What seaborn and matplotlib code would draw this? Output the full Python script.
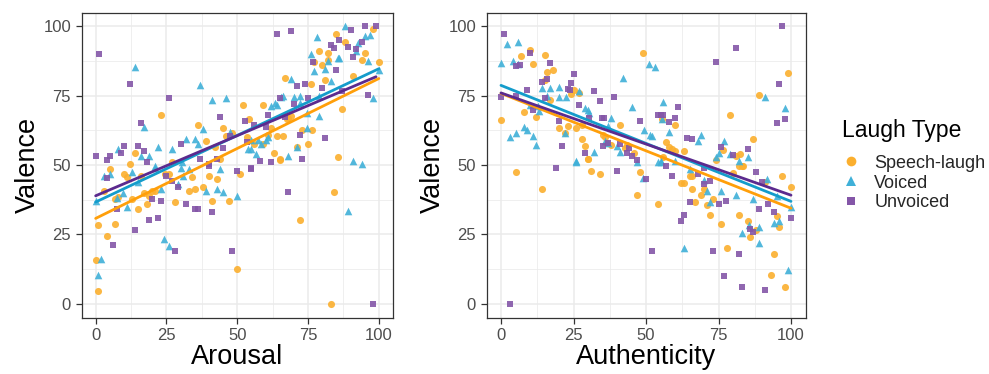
import matplotlib
matplotlib.use("Agg")
import matplotlib.pyplot as plt
import seaborn as sns
import pandas as pd
from matplotlib.ticker import MultipleLocator
from matplotlib.lines import Line2D

# ---------------- DATA ----------------
laugh_types = ["Speech-laugh", "Voiced", "Unvoiced"]

# Left panel: Arousal vs Valence
aro_speech_x = [52, 23, 36, 45, 48, 46, 39, 53.4, 42, 14, 12, 44, 27, 5, 10, 11, 3, 16, 24.6, 26, 34, 40, 43, 33, 35, 38, 41, 47, 28, 51,
                1, 7, 4, 0, 1, 7, 8, 15, 13, 18, 17, 19, 20, 21, 50,
                59, 85, 88, 79, 82, 95, 82, 94, 100, 77, 80, 91, 67, 81, 76, 87, 54, 68, 69, 67.5, 62, 61, 64, 66, 73, 76.5, 56, 59, 63, 65,
                71, 75, 85.7, 98, 65, 84, 72, 83]
aro_speech_y = [71.5, 68.2, 64.4, 63.4, 61.4, 60.4, 58.8, 60.1, 56.4, 54.2, 50.4, 52.2, 51, 48.6, 46.9, 45.7, 40.5, 46.2, 46.6, 46.9, 45.7, 46.2, 45, 40.8, 41.4, 42.1, 36.9, 36.9, 36.6, 46.9,
                28.2, 28.9, 24.3, 15.9, 4.4, 37.8, 38.6, 34, 37.8, 36.1, 40, 39, 40.5, 40.5, 12.5,
                71.8, 97.4, 94.5, 91.1, 90.3, 90.5, 88, 87.8, 87.2, 87.2, 86, 82, 81.5, 80.6, 79.3, 70.3, 66.7, 67, 67.6, 66.5, 63.4, 61, 60.4, 60.4, 62.6, 62.6, 57.4, 57.5, 54.2, 51.8,
                56.5, 57.7, 52.8, 99, 52, 40.2, 30.3, 0]

aro_voiced_x = [14, 37, 41, 46, 17, 38, 47.5, 32, 35, 36, 22, 27, 8, 16, 19, 30.5, 21, 53.8, 3, 5, 13, 21, 30, 31, 33, 44, 29, 39, 43, 45, 50,
                2, 1, 7.5, 9.7, 11, 23, 24, 26, 15, 0,
                88, 95, 97, 78, 92.5, 92, 76, 85.5, 86, 82, 96, 81, 77, 100, 69, 83, 98, 65.5, 66, 70, 72, 79, 62, 63.4, 64, 72, 74.5, 79, 74.5,
                55, 58.5, 57.5, 60, 61, 68, 71, 91, 94, 55, 56.5, 89]
aro_voiced_y = [85.4, 78.8, 73.6, 74, 63.8, 63, 62, 59.5, 59.5, 57.4, 56.4, 55.6, 55.6, 53.2, 53.2, 51, 49.8, 55.6, 46.2, 46.9, 47.4, 49, 49, 46, 48.4, 48.6, 43, 40.5, 41.4, 40.2, 38.7,
                16.2, 10.2, 38, 40, 35, 41.4, 23.3, 20.7, 44, 37,
                100, 96.5, 97, 96, 94, 91, 90.1, 88.7, 88.7, 87.6, 87.5, 84.5, 83.9, 84.2, 80.9, 80.3, 74.3, 74.6, 75, 74.6, 74.9, 75, 71.2, 72.2, 71.5, 72.5, 68.8, 67.6, 63.5,
                59, 57.5, 59, 59, 60, 53.4, 56.5, 51.4, 50.5, 55.6, 54, 33.3]

aro_unvoiced_x = [1.2, 12, 26, 44, 52.8, 16, 47.6, 30, 45, 10, 15, 17, 9, 0, 5, 4, 18, 43, 40, 37, 4, 25, 27, 29, 40, 41, 32, 35, 36, 50,
                  6, 7.6, 20, 23, 19, 22, 14, 28, 48,
                  64, 69, 90, 95, 99, 86, 83, 84, 89, 94, 92, 91, 76.6, 85, 74, 71, 80, 87, 96, 65, 75, 70, 61, 67, 60, 56, 72, 53.6, 81, 73,
                  55, 58, 62, 55, 68, 98]
aro_unvoiced_y = [90, 79.3, 74.3, 67.3, 65.8, 65.2, 60.4, 57.6, 56.2, 57, 57, 55.2, 54.2, 53.2, 53.2, 51.8, 51, 52.2, 50.2, 52, 45.4, 46, 44.2, 42.1, 49.8, 33, 36.1, 34, 34, 47.8,
                  21, 34, 37.8, 36.9, 30, 31, 26.7, 19.1, 19.1,
                  97.4, 98.3, 98.7, 100, 100, 95, 93.2, 92.3, 92.5, 94.3, 92, 89, 87.2, 84.2, 79.3, 78.5, 77.6, 76.6, 75.1, 74.3, 74.3, 72.1, 68.2, 67.3, 63.8, 64.3, 60.8, 58.2, 59.8, 52.2,
                  49, 51.4, 51.2, 48.6, 40.2, 0]

# Right panel: Authenticity vs Valence
aut_speech_x = [10, 7, 15, 11, 16, 18, 49, 15, 25, 27, 24, 17, 8, 0, 12, 20, 23, 28, 26, 28, 29, 30, 22, 35, 36, 36.6, 38, 41, 42.6, 43.6, 46,
                5, 14, 30, 31, 34, 48, 47, 54,
                99, 89, 55.5, 60, 79, 87, 57, 58, 59, 60, 63, 76.5, 81, 82.5, 74, 83.6, 56,
                65, 66, 62, 63, 66, 69, 70, 71, 73, 67, 72, 76, 78, 80, 82, 83, 82, 85, 86, 88, 94, 93, 98, 97, 100, 95, 96, 91]
aut_speech_y = [91.4, 89.3, 89.6, 86.3, 83.6, 84.2, 90.3, 80.6, 77.2, 76, 75.6, 73.5, 69.2, 66.4, 67.3, 63.5, 64, 64.3, 63.4, 59.2, 56.8, 52.3, 61.6, 61, 60, 58, 57.3, 64.3, 56, 57.2, 54.5,
                47.5, 41.5, 52, 47.8, 46.6, 47.5, 39.1, 36.1,
                83.3, 75.2, 66.5, 64.3, 67.9, 59.2, 58.2, 56.6, 55.6, 55, 55, 55.5, 53.2, 54, 51.8, 49.5, 53,
                46, 46, 43.6, 43.6, 41.4, 39.3, 41.3, 35.7, 37.8, 36.6, 31.8, 28.8, 20.1, 47, 49.6, 49.6, 32.1, 29.7, 24, 26.5, 17.9, 10.5, 6, 46, 42, 31.5, 27.5, 44]

aut_voiced_x = [2, 6, 4, 0, 5.8, 51, 53, 42, 14, 17, 20, 27, 16, 20, 22.5, 10, 12.6, 13, 29, 30, 30.5, 45, 38, 37, 8, 9, 11, 5, 3, 12, 22,
                26, 36, 37, 32, 40, 41, 49.4, 52, 55, 26, 47, 49, 54,
                91, 56, 98, 55.5, 51.5, 58, 69, 68, 77, 75, 79, 85, 74, 82, 55, 60,
                65, 70, 71, 72, 76, 63, 81, 85.5, 83, 89, 89, 99, 87, 95, 96, 94, 100, 91.6]
aut_voiced_y = [93.5, 94.3, 87.5, 86.9, 86.6, 86.6, 85.4, 81.5, 77.6, 77.9, 78.1, 76.6, 74.9, 74.5, 74.5, 71.8, 71.2, 69.5, 70.4, 69.8, 68.8, 71, 67, 64, 63.8, 62.8, 60.6, 61.6, 60, 57.1, 61.6,
                51.6, 58.6, 58, 54.6, 56.8, 54.6, 62.8, 60.4, 51.5, 51, 51, 45.4, 51,
                74.6, 72.7, 70.4, 66.5, 61, 62, 61, 58.7, 58.6, 54.5, 54, 53, 52.8, 51.5, 51, 51.3,
                48.6, 44.5, 40.8, 36.6, 40.5, 20.1, 39.3, 28.5, 25.5, 27.5, 21.9, 12.3, 37.8, 39, 29.7, 29, 35, 44.8]

aut_unvoiced_x = [1.1, 10, 5, 6.5, 17, 25, 16, 14, 24, 23, 23.8, 32, 9, 0, 15, 39, 34, 27, 5, 11, 30.5, 54, 34.8, 35.6, 48, 20, 21, 29, 35, 37,
                  41, 44, 43.6, 45, 47, 19, 40, 50, 52, 3,
                  97, 81, 74, 96, 61, 56, 55, 60, 58, 98, 95, 64, 66, 76, 80, 85, 57, 70,
                  59, 70, 72, 65, 63, 62, 75, 77.5, 73, 77, 83, 91, 82, 88, 86, 87, 89, 92, 94, 100, 90, 68]
aut_unvoiced_y = [97.4, 90.5, 85.7, 86, 86.9, 82.7, 80.9, 80, 79.4, 77.4, 77, 76.6, 77, 74.5, 74, 74.6, 73, 71.8, 74.9, 70, 67, 68.2, 67, 67, 65.8, 65.8, 56.8, 54.2, 57, 58,
                  57.5, 56, 54.2, 53.4, 51.8, 49, 47.8, 45.1, 19.1, 0,
                  100, 92.3, 87.2, 79.3, 70.9, 68, 68, 67, 65.6, 66.7, 65.2, 59.8, 59.2, 56.6, 53.5, 55.8, 49.6, 49,
                  46, 43.3, 44.2, 36.6, 32.1, 29.7, 36.1, 37, 19.1, 10.1, 6, 5, 17.9, 47.4, 27, 26, 34, 36, 33, 31, 44, 46.6]

tick_values = [0, 25, 50, 75, 100]

# ---------------- STYLE ----------------
sns.set_theme(style="whitegrid")
plt.rcParams['font.family'] = ['Liberation Sans', 'DejaVu Sans']

line_colors = {"Speech-laugh": "#FF9F0A", "Voiced": "#149CCB", "Unvoiced": "#5B2A8E"}
point_colors = {"Speech-laugh": "#FBAF2E", "Voiced": "#3FB0D8", "Unvoiced": "#8456A8"}
markers = {"Speech-laugh": "o", "Voiced": "^", "Unvoiced": "s"}
msizes = {"Speech-laugh": 26, "Voiced": 30, "Unvoiced": 20}


def make_df(xs, ys):
    rows = []
    for t, x, y in zip(laugh_types, xs, ys):
        for a, b in zip(x, y):
            rows.append({"x": a, "Valence": b, "Laugh Type": t})
    return pd.DataFrame(rows)


df_aro = make_df([aro_speech_x, aro_voiced_x, aro_unvoiced_x],
                 [aro_speech_y, aro_voiced_y, aro_unvoiced_y])
df_aut = make_df([aut_speech_x, aut_voiced_x, aut_unvoiced_x],
                 [aut_speech_y, aut_voiced_y, aut_unvoiced_y])

W, H = 989, 374
fig = plt.figure(figsize=(W / 100, H / 100), dpi=100)
ax1 = fig.add_axes([81.5 / W, 56.5 / H, 311.5 / W, 305 / H])
ax2 = fig.add_axes([486.5 / W, 56.5 / H, 319 / W, 305 / H])


def draw(ax, df, xlabel):
    for t in laugh_types:
        sub = df[df["Laugh Type"] == t]
        sns.scatterplot(data=sub, x="x", y="Valence", color=point_colors[t], marker=markers[t],
                        s=msizes[t], linewidth=0, alpha=0.9, ax=ax, legend=False, zorder=3)
    for t in laugh_types:
        sub = df[df["Laugh Type"] == t]
        sns.regplot(data=sub, x="x", y="Valence", scatter=False, ci=None, truncate=True,
                    color=line_colors[t], line_kws={"lw": 2.0, "zorder": 4}, ax=ax)
    ax.set_xlim(-5, 105)
    ax.set_ylim(-5, 105)
    ax.set_xticks(tick_values)
    ax.set_yticks(tick_values)
    ax.xaxis.set_minor_locator(MultipleLocator(12.5))
    ax.yaxis.set_minor_locator(MultipleLocator(12.5))
    ax.grid(which="major", color="#EBEBEB", lw=1.1)
    ax.grid(which="minor", color="#EBEBEB", lw=0.55)
    ax.set_axisbelow(True)
    ax.set_facecolor("white")
    for sp in ax.spines.values():
        sp.set_color("#333333")
        sp.set_linewidth(0.9)
    ax.tick_params(which="major", bottom=True, left=True, length=4, width=0.9, color="#333333",
                   labelsize=12, labelcolor="#4D4D4D", pad=3.5)
    ax.tick_params(which="minor", length=0)
    ax.set_xlabel(xlabel, fontsize=19.5, color="black", labelpad=1)
    ax.set_ylabel("Valence", fontsize=19.5, color="black", labelpad=2)


draw(ax1, df_aro, "Arousal")
draw(ax2, df_aut, "Authenticity")

fig.text(842 / W, 1 - 130 / H, "Laugh Type", fontsize=16.5, ha="left", va="center", color="black")
handles = [Line2D([0], [0], marker=markers[t], color="none", markerfacecolor=point_colors[t],
                  markeredgewidth=0, markersize=7 if t != "Unvoiced" else 6) for t in laugh_types]
leg = fig.legend(handles, laugh_types, loc="center left",
                 bbox_to_anchor=(840 / W, 1 - 183 / H), frameon=False, fontsize=13,
                 handlelength=1.2, handletextpad=0.7, borderpad=0, borderaxespad=0,
                 labelspacing=0.15)

fig.savefig("out.png", dpi=100)
